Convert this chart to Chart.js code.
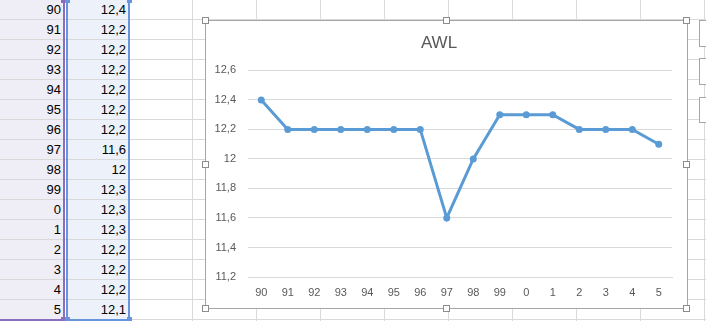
<!DOCTYPE html>
<html>
<head>
<meta charset="utf-8">
<script src="https://cdn.jsdelivr.net/npm/chart.js@4"></script>
<style>
  html, body { margin: 0; padding: 0; background: #fff; }
  body { width: 706px; height: 321px; position: relative; overflow: hidden; font-family: "Liberation Sans", Arial, sans-serif; }
  #sheet {
    position: absolute; left: 0; top: 0; width: 706px; height: 321px;
    background-image:
      linear-gradient(to bottom, transparent 19px, #d9d9d9 19px, #d9d9d9 20px),
      linear-gradient(to right, transparent 63px, #d9d9d9 63px, #d9d9d9 64px);
    background-size: 706px 20px, 64px 321px;
    background-position: 0 0, 1px 0;
  }
  .cell { position: absolute; height: 19px; font-size: 13px; color: #000; text-align: right; line-height: 19px; box-sizing: border-box; padding-right: 3px; }
  .colA { left: 0; width: 64px; background: #efedf5; }
  .colB { left: 67px; width: 62px; background: #ecf1fa; }
  .bar { position: absolute; }
  .hd { position: absolute; width: 5px; height: 5px; }
  #frame { position: absolute; left: 205px; top: 20px; width: 481px; height: 287px; border: 1px solid #a6a6a6; background: #fff; }
  #frame canvas { position: absolute; left: 0; top: 0; }
  .handle { position: absolute; width: 7px; height: 7px; border: 1px solid #8c8c8c; background: #fff; box-sizing: border-box; }
  .btn { position: absolute; left: 699px; width: 12px; border: 1px solid #a6a6a6; background: #fff; box-sizing: border-box; }
</style>
</head>
<body>
<div id="sheet"></div>
<div id="frame"><canvas id="awl" width="481" height="287"></canvas></div>
<script>
// data read from the sheet
const years = ['90', '91', '92', '93', '94', '95', '96', '97', '98', '99', '0', '1', '2', '3', '4', '5'];
const awl = [12.4, 12.2, 12.2, 12.2, 12.2, 12.2, 12.2, 11.6, 12, 12.3, 12.3, 12.3, 12.2, 12.2, 12.2, 12.1];
const yTicks = [11.2, 11.4, 11.6, 11.8, 12, 12.2, 12.4, 12.6];

const fmt = v => String(Math.round(v * 10) / 10).replace('.', ',');

// spreadsheet cells
const sheet = document.getElementById('sheet');
years.forEach((y, i) => {
  sheet.insertAdjacentHTML('beforeend',
    `<div class="cell colA" style="top:${i * 20}px">${y}</div>` +
    `<div class="cell colB" style="top:${i * 20}px">${fmt(awl[i])}</div>`);
});
// range highlight borders
sheet.insertAdjacentHTML('beforeend', `
  <div class="bar" style="left:63px;top:0;width:2px;height:321px;background:#8a6cc0"></div>
  <div class="bar" style="left:0;top:319px;width:65px;height:2px;background:#8a6cc0"></div>
  <div class="bar" style="left:66px;top:0;width:2px;height:321px;background:#6794dc"></div>
  <div class="bar" style="left:128px;top:0;width:2px;height:321px;background:#6794dc"></div>
  <div class="bar" style="left:66px;top:319px;width:64px;height:2px;background:#6794dc"></div>
  <div class="hd" style="left:61px;top:-2px;background:#8a6cc0"></div>
  <div class="hd" style="left:61px;top:317px;background:#8a6cc0"></div>
  <div class="hd" style="left:65px;top:-2px;background:#6794dc"></div>
  <div class="hd" style="left:127px;top:-2px;background:#6794dc"></div>
  <div class="hd" style="left:65px;top:317px;background:#6794dc"></div>
  <div class="hd" style="left:127px;top:317px;background:#6794dc"></div>
  <div class="btn" style="top:20px;height:27px"></div>
  <div class="btn" style="top:58px;height:27px"></div>
  <div class="btn" style="top:97px;height:26px"></div>
`);
// selection handles of the chart object
[[205, 20], [446, 20], [686, 20], [205, 164], [686, 164], [205, 308], [446, 308], [686, 308]].forEach(([x, y]) => {
  document.body.insertAdjacentHTML('beforeend', `<div class="handle" style="left:${x - 3}px;top:${y - 3}px"></div>`);
});

const txt = '#595959';
const grid = '#d9d9d9';

new Chart(document.getElementById('awl'), {
  type: 'line',
  data: {
    labels: years,
    datasets: [{
      label: 'AWL',
      data: awl,
      borderColor: '#5b9bd5',
      backgroundColor: '#5b9bd5',
      borderWidth: 3,
      pointRadius: 3.5,
      pointHoverRadius: 3.5,
      pointBorderWidth: 0,
      tension: 0
    }]
  },
  options: {
    responsive: false,
    animation: false,
    events: [],
    layout: { padding: { left: 0, right: 15, top: 0, bottom: 0 } },
    plugins: {
      legend: { display: false },
      tooltip: { enabled: false },
      title: {
        display: true,
        text: 'AWL',
        color: txt,
        font: { family: '"Liberation Sans", Arial, sans-serif', size: 17, weight: 'normal' },
        padding: { top: 12, bottom: 17 }
      }
    },
    scales: {
      x: {
        offset: true,
        grid: { display: false, drawTicks: false },
        border: { display: true, color: grid, width: 1 },
        ticks: { color: txt, padding: 9, maxRotation: 0, autoSkip: false, font: { family: '"Liberation Sans", Arial, sans-serif', size: 11 } },
        afterFit: s => { s.height = 31; }
      },
      y: {
        min: 11.2,
        max: 12.6,
        afterBuildTicks: s => { s.ticks = yTicks.map(v => ({ value: v })); },
        grid: { color: grid, drawTicks: false },
        border: { display: false },
        ticks: { color: txt, padding: 12, callback: v => fmt(v), font: { family: '"Liberation Sans", Arial, sans-serif', size: 11 } },
        afterFit: s => { s.width = 42; }
      }
    }
  }
});
</script>
</body>
</html>
